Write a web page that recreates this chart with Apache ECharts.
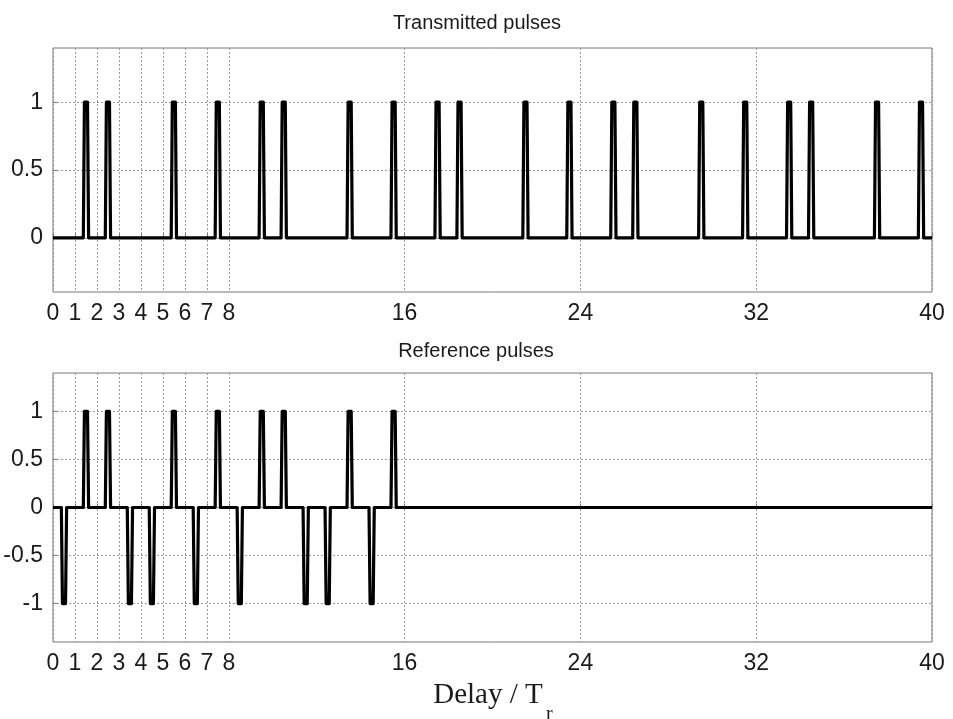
<!DOCTYPE html>
<html>
<head>
<meta charset="utf-8">
<script src="https://cdn.jsdelivr.net/npm/echarts@6/dist/echarts.min.js"></script>
<style>
  html, body { margin: 0; padding: 0; background: #fff; }
  #chart { width: 953px; height: 719px; }
</style>
</head>
<body>
<div id="chart"></div>
<script>
// Chip amplitudes per delay slot (slot k spans [k, k+1) in units of T_r)
const transmittedChips = [
  0, 1, 1, 0, 0, 1, 0, 1, 0, 1, 1, 0, 0, 1, 0, 1,
  0, 1, 1, 0, 0, 1, 0, 1, 0, 1, 1, 0, 0, 1, 0, 1,
  0, 1, 1, 0, 0, 1, 0, 1
];
const referenceChips = [
  -1, 1, 1, -1, -1, 1, -1, 1, -1, 1, 1, -1, -1, 1, -1, 1,
  0, 0, 0, 0, 0, 0, 0, 0, 0, 0, 0, 0, 0, 0, 0, 0,
  0, 0, 0, 0, 0, 0, 0, 0
];

// Axis tick values
const xTicks = [0, 1, 2, 3, 4, 5, 6, 7, 8, 16, 24, 32, 40];
const yTicksTop = [0, 0.5, 1];
const yTicksBottom = [-1, -0.5, 0, 0.5, 1];

const titleTop = 'Transmitted pulses';
const titleBottom = 'Reference pulses';
const xName = 'Delay / T';
const xNameSub = 'r';

// Narrow trapezoidal pulse centred in each slot
const BASE_HALF = 0.12;
const TOP_HALF = 0.07;
function pulseTrain(chips) {
  const pts = [[0, 0]];
  chips.forEach(function (a, k) {
    if (a === 0) return;
    const c = k + 0.5;
    pts.push([c - BASE_HALF, 0], [c - TOP_HALF, a], [c + TOP_HALF, a], [c + BASE_HALF, 0]);
  });
  pts.push([chips.length, 0]);
  return pts;
}

const FONT = "'Liberation Sans', Arial, sans-serif";
const SERIF = "'Liberation Serif', 'Times New Roman', serif";
const frameColor = '#777';
const gridColor = '#999';
const textColor = '#1a1a1a';

function xAxisCfg(idx) {
  return {
    type: 'value', gridIndex: idx, min: 0, max: 40,
    axisLine: { show: false },
    axisTick: { show: true, inside: true, length: 4, lineStyle: { color: frameColor }, customValues: xTicks },
    axisLabel: { customValues: xTicks, fontSize: 23, fontFamily: FONT, color: textColor, margin: 10 },
    splitLine: { show: true, lineStyle: { color: gridColor, type: [2, 2], width: 1 } }
  };
}
function yAxisCfg(idx, min, max, ticks) {
  return {
    type: 'value', gridIndex: idx, min: min, max: max,
    axisLine: { show: false },
    axisTick: { show: true, inside: true, length: 4, lineStyle: { color: frameColor }, customValues: ticks },
    axisLabel: { customValues: ticks, fontSize: 23, fontFamily: FONT, color: textColor, margin: 10 },
    splitLine: { show: true, lineStyle: { color: gridColor, type: [2, 2], width: 1 } }
  };
}

const chart = echarts.init(document.getElementById('chart'), null, { renderer: 'canvas' });
chart.setOption({
  animation: false,
  backgroundColor: '#fff',
  title: [
    { text: titleTop, left: 472, top: 8, textAlign: 'center',
      textStyle: { fontSize: 20, fontWeight: 'normal', fontFamily: FONT, color: textColor } },
    { text: titleBottom, left: 471, top: 336, textAlign: 'center',
      textStyle: { fontSize: 20, fontWeight: 'normal', fontFamily: FONT, color: textColor } },
    { text: xName, left: 483, top: 676, textAlign: 'center',
      textStyle: { fontSize: 29, fontWeight: 'normal', fontFamily: SERIF, color: textColor } },
    { text: xNameSub, left: 541, top: 700, textAlign: 'left',
      textStyle: { fontSize: 20, fontWeight: 'normal', fontFamily: SERIF, color: textColor } }
  ],
  grid: [
    { left: 53, right: 21, top: 48, height: 244, show: true, borderColor: frameColor, borderWidth: 1, backgroundColor: 'transparent' },
    { left: 53, right: 21, top: 373, height: 269, show: true, borderColor: frameColor, borderWidth: 1, backgroundColor: 'transparent' }
  ],
  xAxis: [xAxisCfg(0), xAxisCfg(1)],
  yAxis: [yAxisCfg(0, -0.4, 1.4, yTicksTop), yAxisCfg(1, -1.4, 1.4, yTicksBottom)],
  series: [
    { type: 'line', xAxisIndex: 0, yAxisIndex: 0, data: pulseTrain(transmittedChips),
      showSymbol: false, symbol: 'none', lineStyle: { color: '#000', width: 3.2, join: 'round' }, z: 5 },
    { type: 'line', xAxisIndex: 1, yAxisIndex: 1, data: pulseTrain(referenceChips),
      showSymbol: false, symbol: 'none', lineStyle: { color: '#000', width: 3.2, join: 'round' }, z: 5 }
  ]
});
</script>
</body>
</html>
